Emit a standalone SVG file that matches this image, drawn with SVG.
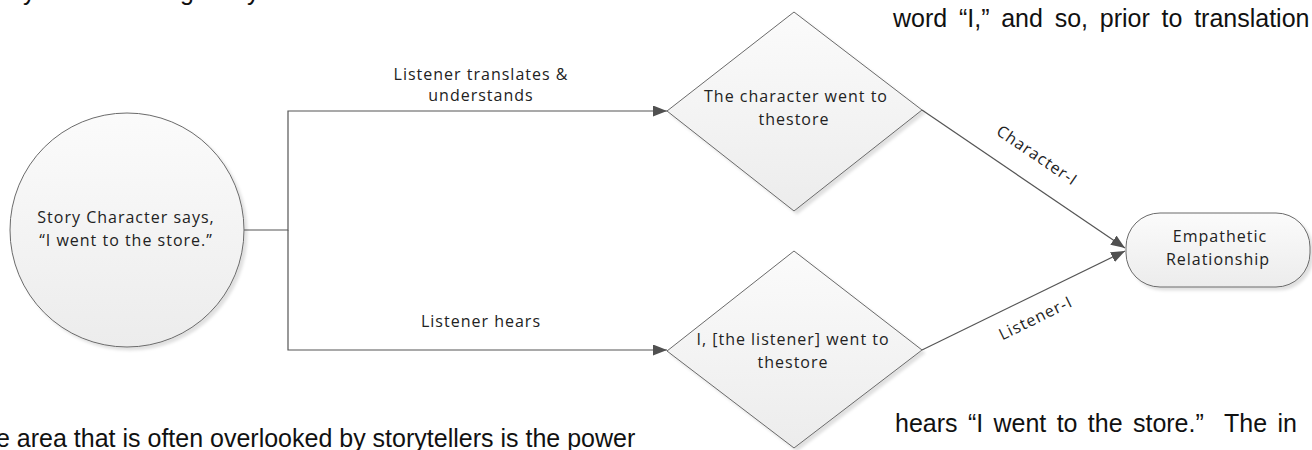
<svg xmlns="http://www.w3.org/2000/svg" width="1312" height="450" viewBox="0 0 1312 450">
  <style>
    .page { font-family: "Liberation Sans", Arial, sans-serif; font-size: 25px; fill: #111; }
    .lbl { font-family: "Open Sans", "Noto Sans", sans-serif; font-size: 16px; fill: #222; letter-spacing: 1px; text-anchor: middle; }
    .shape { fill: url(#g); stroke: #6a6a6a; stroke-width: 1; filter: url(#sh); }
    .conn { fill: none; stroke: #555; stroke-width: 1.2; }
  </style>
  <defs>
    <linearGradient id="g" x1="0" y1="0" x2="0" y2="1">
      <stop offset="0" stop-color="#fbfbfb"/>
      <stop offset="1" stop-color="#ececec"/>
    </linearGradient>
    <filter id="sh" x="-10%" y="-10%" width="130%" height="130%">
      <feDropShadow dx="3" dy="3" stdDeviation="1.5" flood-color="#000" flood-opacity="0.12"/>
    </filter>
    <marker id="arr" markerUnits="userSpaceOnUse" markerWidth="15" markerHeight="11" refX="14" refY="5.5" orient="auto">
      <path d="M0,0 L14,5.5 L0,11 z" fill="#505050"/>
    </marker>
  </defs>

  <!-- surrounding page text fragments -->
  <g id="page-text">
    <text class="page" x="23" y="0">y</text>
    <text class="page" x="180" y="0">g</text>
    <text class="page" x="247" y="0">y</text>
    <text class="page" x="893" y="27" word-spacing="4.8">word “I,” and so, prior to translation</text>
    <text class="page" x="-4" y="447">e area that is often overlooked by storytellers is the power</text>
    <text class="page" x="895" y="432" xml:space="preserve" word-spacing="3.4">hears “I went to the store.”  The in</text>
  </g>

  <g id="connectors">
    <path class="conn" d="M244,230 H288 V111 H667" marker-end="url(#arr)"/>
    <path class="conn" d="M288,230 V350 H667" marker-end="url(#arr)"/>
    <path class="conn" d="M922,110 L1125,248" marker-end="url(#arr)"/>
    <path class="conn" d="M922,350 L1125,251" marker-end="url(#arr)"/>
    <text class="lbl" x="481" y="80">Listener translates &amp;</text>
    <text class="lbl" x="481" y="101">understands</text>
    <text class="lbl" x="481" y="327">Listener hears</text>
    <text class="lbl" transform="translate(1034,160) rotate(34)">Character-I</text>
    <text class="lbl" transform="translate(1038,323) rotate(-26)">Listener-I</text>
  </g>

  <g id="story-character">
    <circle class="shape" cx="127" cy="230" r="117"/>
    <text class="lbl" x="126" y="223">Story Character says,</text>
    <text class="lbl" x="126" y="246">“I went to the store.”</text>
  </g>

  <g id="character-went">
    <polygon class="shape" points="794,12 922,110 794,211 667,111"/>
    <text class="lbl" x="796" y="102">The character went to</text>
    <text class="lbl" x="794" y="125">thestore</text>
  </g>

  <g id="listener-went">
    <polygon class="shape" points="794,251 922,350 794,448 667,351"/>
    <text class="lbl" x="793" y="345">I, [the listener] went to</text>
    <text class="lbl" x="793" y="368">thestore</text>
  </g>

  <g id="empathetic">
    <rect class="shape" x="1126" y="213" width="184" height="74" rx="34" ry="34"/>
    <text class="lbl" x="1220" y="242">Empathetic</text>
    <text class="lbl" x="1218" y="265">Relationship</text>
  </g>
</svg>
